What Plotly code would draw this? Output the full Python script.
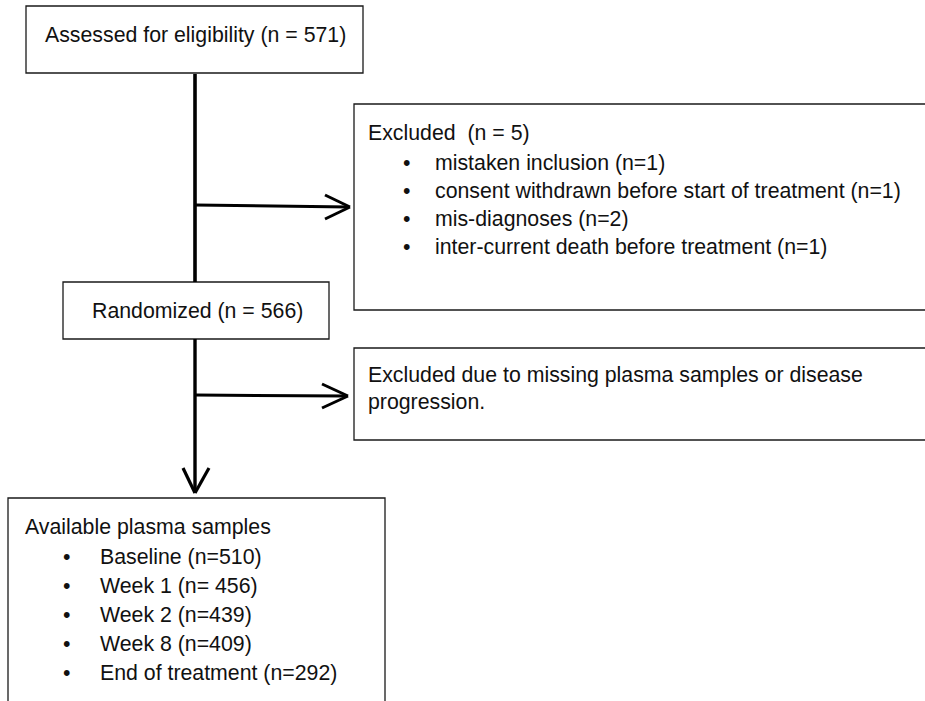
import plotly.graph_objects as go

# ---- content ----
assessed_label = "Assessed for eligibility (n = 571)"
excluded1_title = "Excluded  (n = 5)"
excluded1_items = [
    "mistaken inclusion (n=1)",
    "consent withdrawn before start of treatment (n=1)",
    "mis-diagnoses (n=2)",
    "inter-current death before treatment (n=1)",
]
randomized_label = "Randomized (n = 566)"
excluded2_lines = [
    "Excluded due to missing plasma samples or disease",
    "progression.",
]
available_title = "Available plasma samples"
available_items = [
    "Baseline (n=510)",
    "Week 1 (n= 456)",
    "Week 2 (n=439)",
    "Week 8 (n=409)",
    "End of treatment (n=292)",
]

W, H = 925, 701
FONT = dict(family="Liberation Sans, Arial, Helvetica, sans-serif", size=21.3, color="#111111")

fig = go.Figure()
shapes = []
annots = []

def box(x0, y0, x1, y1):
    shapes.append(dict(type="rect", xref="x", yref="y", x0=x0, y0=y0, x1=x1, y1=y1,
                       line=dict(color="#1a1a1a", width=1.3), fillcolor="white", layer="below"))

def line(x0, y0, x1, y1, w=3.2):
    shapes.append(dict(type="line", xref="x", yref="y", x0=x0, y0=y0, x1=x1, y1=y1,
                       line=dict(color="black", width=w)))

def text(x, y, s, anchor="left"):
    annots.append(dict(x=x, y=y, xref="x", yref="y", text=s, showarrow=False,
                       xanchor=anchor, yanchor="middle", font=FONT))

# boxes
box(26, 6, 363, 73)
box(354, 104, 945, 310)
box(63, 282, 329, 339)
box(354, 348, 945, 440)
box(8, 498, 385, 720)

# main vertical connector
line(195, 74, 195, 282, w=3.6)
line(195, 339, 195, 492, w=3.4)
# down arrow head
line(183, 468, 195, 493, w=3.2)
line(209, 468, 195, 493, w=3.2)

# horizontal arrow 1
line(195, 205, 349, 207, w=3)
line(325, 195, 350, 207, w=3)
line(325, 219, 350, 207, w=3)
# horizontal arrow 2
line(195, 395, 347, 396, w=3)
line(322, 384, 348, 396, w=3)
line(322, 408, 348, 396, w=3)

# texts
text(195, 35, assessed_label, anchor="center")
text(366, 133, excluded1_title)
for i, s in enumerate(excluded1_items):
    y = 163 + i * 28
    text(401, y, "•")
    text(433, y, s)
text(197, 311, randomized_label, anchor="center")
for i, s in enumerate(excluded2_lines):
    text(366, 375 + i * 27, s)
text(23, 527, available_title)
for i, s in enumerate(available_items):
    y = 557 + i * 29
    text(61, y, "•")
    text(98, y, s)

fig.update_layout(
    width=W, height=H,
    margin=dict(l=0, r=0, t=0, b=0),
    paper_bgcolor="white", plot_bgcolor="white",
    xaxis=dict(range=[0, W], visible=False, fixedrange=True),
    yaxis=dict(range=[H, 0], visible=False, fixedrange=True),
    shapes=shapes, annotations=annots, showlegend=False,
)
fig.write_html("out.html", config={"displayModeBar": False},
               post_script="document.body.style.margin='0px';")
